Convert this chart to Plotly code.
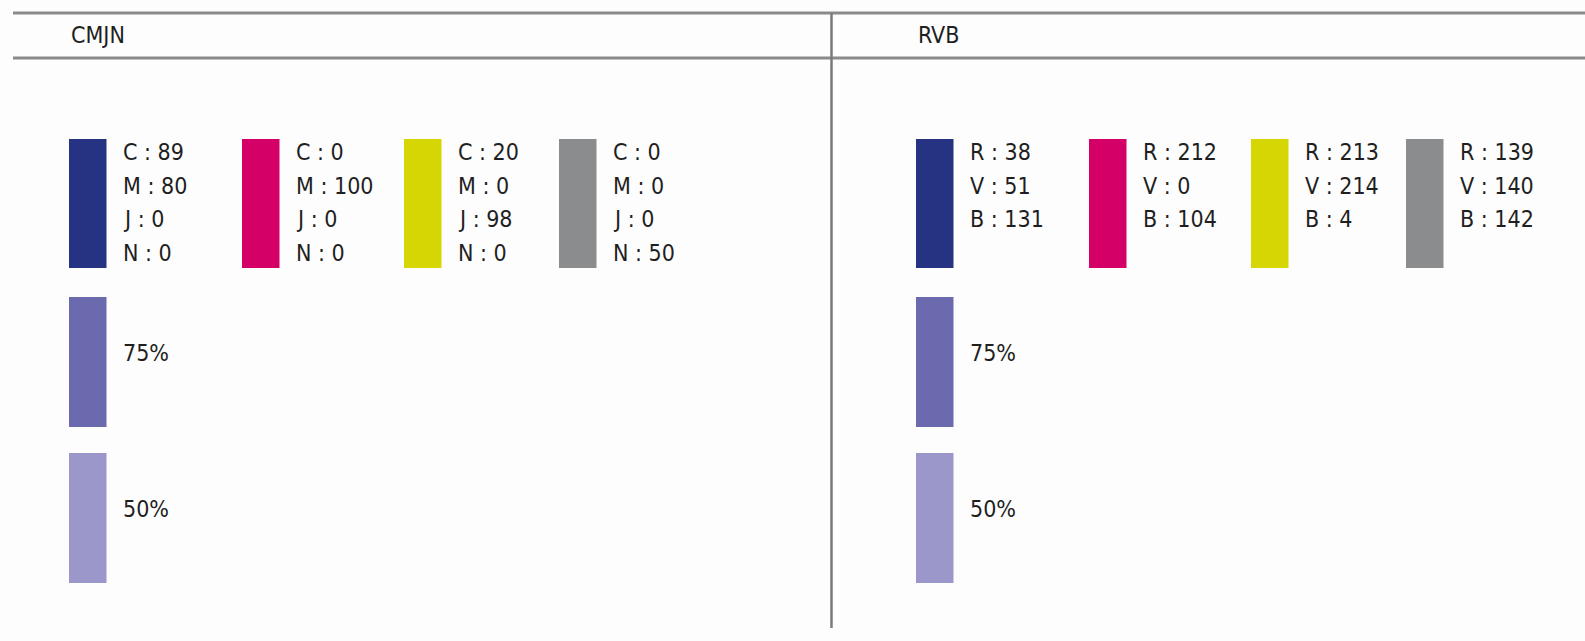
import plotly.graph_objects as go

# ---- data ----
panel_titles = ["CMJN", "RVB"]
swatch_colors = ["#263383", "#D40068", "#D5D604", "#8B8C8E"]
cmjn_labels = ["C", "M", "J", "N"]
cmjn_values = [[89, 80, 0, 0], [0, 100, 0, 0], [20, 0, 98, 0], [0, 0, 0, 50]]
rvb_labels = ["R", "V", "B"]
rvb_values = [[38, 51, 131], [212, 0, 104], [213, 214, 4], [139, 140, 142]]
tint_labels = ["75%", "50%"]
tint_colors = ["#6C6AAE", "#9C97CB"]

# ---- layout constants (page pixels) ----
W, H = 1585, 641
panel_offset = [0, 847]
col_x = [69, 242, 404, 559]
sw_w = 37.5
sw_top, sw_bot = 139, 268
tint_tops = [297, 453]
tint_h = 130
text_dx = 52
row_y0, row_dy = 152, 33.7
line_color = "#8a8a8a"
font_family = "DejaVu Sans Condensed, DejaVu Sans, sans-serif"
txt_color = "#1f1f1f"
SP = " "

fig = go.Figure()
fig.add_trace(go.Scatter(x=[0, W], y=[0, H], mode="markers",
                         marker=dict(opacity=0), hoverinfo="skip", showlegend=False))

shapes = []
annotations = []

# frame lines
shapes.append(dict(type="line", xref="x", yref="y", x0=13, x1=W, y0=13, y1=13,
                   line=dict(color=line_color, width=3)))
shapes.append(dict(type="line", xref="x", yref="y", x0=13, x1=W, y0=58, y1=58,
                   line=dict(color=line_color, width=3)))
shapes.append(dict(type="line", xref="x", yref="y", x0=831.5, x1=831.5, y0=13, y1=628,
                   line=dict(color="#7a7a7a", width=2.5)))

panel_labels = [cmjn_labels, rvb_labels]
panel_values = [cmjn_values, rvb_values]

for p, title in enumerate(panel_titles):
    off = panel_offset[p]
    annotations.append(dict(x=off + 69, y=35, xref="x", yref="y", text=title,
                            showarrow=False, xanchor="left", yanchor="middle",
                            font=dict(family=font_family, size=23, color=txt_color)))
    for c, color in enumerate(swatch_colors):
        x0 = off + col_x[c]
        shapes.append(dict(type="rect", xref="x", yref="y", x0=x0, x1=x0 + sw_w,
                           y0=sw_top, y1=sw_bot, fillcolor=color, line=dict(width=0)))
        for r, (lab, val) in enumerate(zip(panel_labels[p], panel_values[p][c])):
            annotations.append(dict(x=x0 + text_dx, y=row_y0 + r * row_dy, xref="x", yref="y",
                                    text=f"{lab}{SP}:{SP}{val}", showarrow=False,
                                    xanchor="left", yanchor="middle",
                                    font=dict(family=font_family, size=23, color=txt_color)))
    for t, (tl, tc) in enumerate(zip(tint_labels, tint_colors)):
        x0 = off + col_x[0]
        y0 = tint_tops[t]
        shapes.append(dict(type="rect", xref="x", yref="y", x0=x0, x1=x0 + sw_w,
                           y0=y0, y1=y0 + tint_h, fillcolor=tc, line=dict(width=0)))
        annotations.append(dict(x=x0 + text_dx, y=y0 + 56, xref="x", yref="y", text=tl,
                                showarrow=False, xanchor="left", yanchor="middle",
                                font=dict(family=font_family, size=23, color=txt_color)))

fig.update_layout(
    width=W, height=H,
    margin=dict(l=0, r=0, t=0, b=0),
    paper_bgcolor="#fdfdfd", plot_bgcolor="#fdfdfd",
    xaxis=dict(range=[0, W], visible=False, fixedrange=True),
    yaxis=dict(range=[H, 0], visible=False, fixedrange=True),
    shapes=shapes, annotations=annotations, showlegend=False,
)

fig.write_html(
    "out.html",
    config={"displayModeBar": False, "staticPlot": True},
    post_script="document.body.style.margin='0';"
                "document.documentElement.style.overflow='hidden';"
                "document.body.style.overflow='hidden';",
)
